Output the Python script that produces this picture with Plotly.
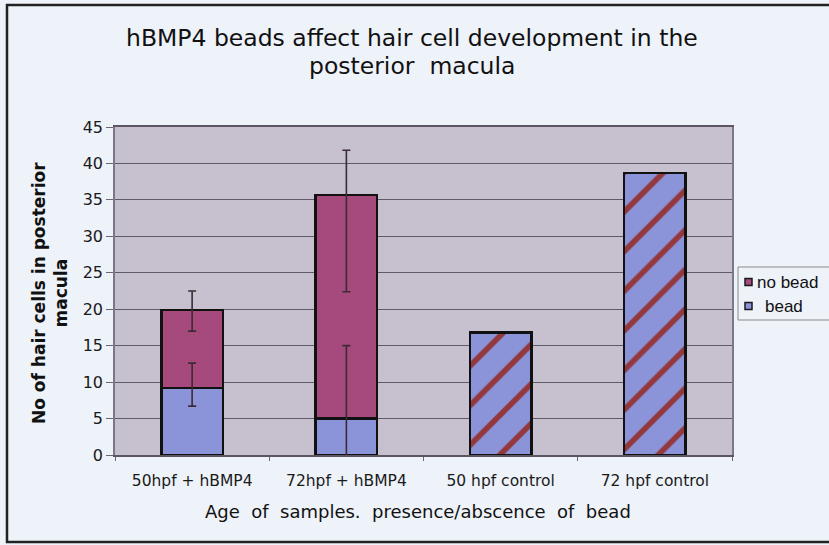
import plotly.graph_objects as go

# Hair-cell counts in the posterior macula
categories = ["50hpf + hBMP4", "72hpf + hBMP4", "50 hpf control", "72 hpf control"]

bead = [9.2, 5.0, None, None]
bead_err_plus = [3.4, 10.0, None, None]
bead_err_minus = [2.5, 10.0, None, None]

no_bead = [10.7, 30.7, None, None]          # stacked on top of "bead"
no_bead_err_plus = [2.6, 6.1, None, None]
no_bead_err_minus = [2.9, 13.3, None, None]

control = [None, None, 16.8, 38.7]

y_ticks = [0, 5, 10, 15, 20, 25, 30, 35, 40, 45]

legend_names = ["no bead", "bead"]

MAGENTA = "#a6497c"
BLUE = "#8b93d9"
STRIPE = "#93383c"
PLOT_BG = "#c6c0cf"
PAPER_BG = "#eef2f9"
ERR = "#3b2b33"
EDGE = "#111111"

W, H = 829, 545
L, R, T, B = 115, 97, 127, 90
pw, ph = W - L - R, H - T - B


def px_x(x):
    return (x - L) / pw


def px_y(y):
    return (H - B - y) / ph


# stacked top of each two-part bar (where the "no bead" error bar sits)
stack_top = [b + n if b is not None and n is not None else None
             for b, n in zip(bead, no_bead)]

fig = go.Figure()

fig.add_trace(go.Bar(
    name="bead", x=categories, y=bead, showlegend=False,
    marker=dict(color=BLUE, line=dict(color=EDGE, width=2.5)),
))
fig.add_trace(go.Bar(
    name="no bead", x=categories, y=no_bead, showlegend=False,
    marker=dict(color=MAGENTA, line=dict(color=EDGE, width=2.5)),
))
fig.add_trace(go.Bar(
    name="control", x=categories, y=control, showlegend=False,
    marker=dict(color=BLUE, line=dict(color=EDGE, width=2.5),
                pattern=dict(shape="/", fgcolor=STRIPE, bgcolor=BLUE,
                             size=28, solidity=0.2, fillmode="replace")),
))

# Error bars drawn over all bars
for yv, ep, em in [(bead, bead_err_plus, bead_err_minus),
                   (stack_top, no_bead_err_plus, no_bead_err_minus)]:
    fig.add_trace(go.Scatter(
        x=categories, y=yv, mode="markers", showlegend=False, hoverinfo="skip",
        marker=dict(size=1, color="rgba(0,0,0,0)"),
        error_y=dict(type="data", symmetric=False, array=ep, arrayminus=em,
                     color=ERR, thickness=1.6, width=4),
    ))

fig.update_layout(
    width=W, height=H,
    margin=dict(l=L, r=R, t=T, b=B, autoexpand=False),
    barmode="stack", bargap=0.6,
    paper_bgcolor=PAPER_BG, plot_bgcolor=PLOT_BG,
    font=dict(family="DejaVu Sans", color="#1a1a1a"),
    showlegend=False,
)

fig.update_yaxes(
    range=[0, 45], tickvals=y_ticks, showgrid=True, gridcolor="#5e5a66", gridwidth=1,
    ticks="outside", ticklen=7, tickcolor="#6a6670",
    showline=True, linecolor="#7d7785", linewidth=1.5, mirror=True,
    tickfont=dict(family="DejaVu Sans", size=16, color="#1a1a1a"), zeroline=False,
)
fig.update_xaxes(
    ticks="outside", tickson="boundaries", ticklen=4, tickcolor="#6a6670",
    showline=True, linecolor="#5c5662", linewidth=1.5, mirror=True,
    ticklabelstandoff=11,
    tickfont=dict(family="DejaVu Sans", size=15.5, color="#1a1a1a"),
)

# Chart title (two lines)
for line, yc in [("hBMP4 beads affect hair cell development in the", 38),
                 ("posterior  macula", 66)]:
    fig.add_annotation(
        text=line, xref="paper", yref="paper", x=px_x(412), y=px_y(yc),
        showarrow=False, xanchor="center", yanchor="middle",
        font=dict(family="DejaVu Sans", size=23.5, color="#111111"),
    )

# Axis titles
fig.add_annotation(
    text="<b>No of hair cells in posterior<br>macula</b>", textangle=-90,
    xref="paper", yref="paper", x=px_x(50), y=px_y(293), showarrow=False,
    xanchor="center", yanchor="middle",
    font=dict(family="DejaVu Sans", size=17, color="#111111"),
)
fig.add_annotation(
    text="Age  of  samples.  presence/abscence  of  bead",
    xref="paper", yref="paper", x=px_x(418), y=px_y(511), showarrow=False,
    xanchor="center", yanchor="middle",
    font=dict(family="DejaVu Sans", size=18, color="#111111"),
)

# Legend box with its two entries
fig.add_shape(type="rect", xref="paper", yref="paper",
              x0=px_x(738), x1=px_x(845), y0=px_y(320), y1=px_y(267),
              line=dict(color="#8a8a8a", width=1), fillcolor=PAPER_BG)
for name, color, yc, xt in [(legend_names[0], MAGENTA, 282, 755),
                            (legend_names[1], BLUE, 306, 763)]:
    fig.add_shape(type="rect", xref="paper", yref="paper",
                  x0=px_x(745), x1=px_x(752), y0=px_y(yc + 3.5), y1=px_y(yc - 3.5),
                  line=dict(color="#1a1a1a", width=1.5), fillcolor=color)
    fig.add_annotation(
        text=name, xref="paper", yref="paper", x=px_x(xt), y=px_y(yc),
        showarrow=False, xanchor="left", yanchor="middle",
        font=dict(family="Liberation Sans", size=17, color="#111111"),
    )

# Outer frame
fig.add_shape(type="rect", xref="paper", yref="paper",
              x0=px_x(7), x1=px_x(835), y0=px_y(542), y1=px_y(5),
              line=dict(color="#222222", width=2.5), fillcolor="rgba(0,0,0,0)")

fig.write_html("out.html")
